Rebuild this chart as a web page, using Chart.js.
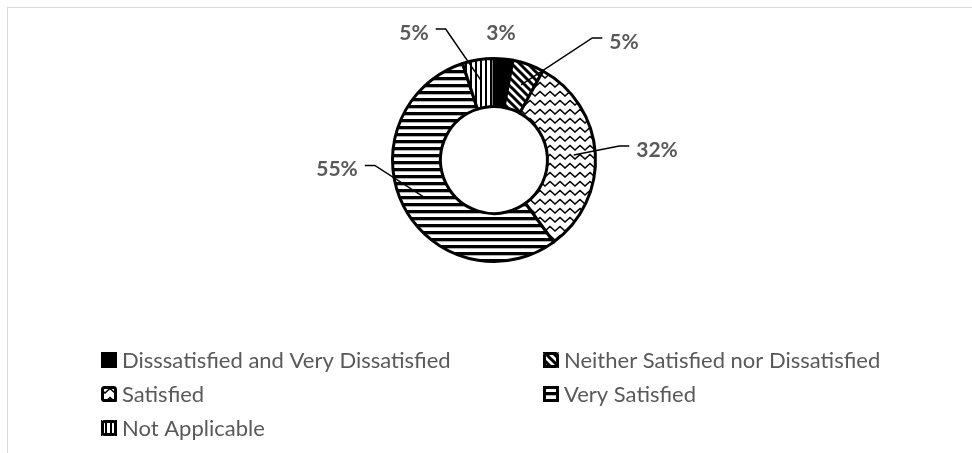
<!DOCTYPE html>
<html><head><meta charset="utf-8">
<script src="https://cdn.jsdelivr.net/npm/chart.js@4/dist/chart.umd.min.js"></script>
<style>html,body{margin:0;padding:0;background:#fff;}canvas{display:block}</style>
</head><body>
<canvas id="c" width="972" height="453"></canvas>
<script>
// ---- data ----
const categories = [
  "Disssatisfied and Very Dissatisfied",
  "Neither Satisfied nor Dissatisfied",
  "Satisfied",
  "Very Satisfied",
  "Not Applicable"
];
const percentValues = [3, 5, 32, 55, 5];
const valueLabels = ["3%", "5%", "32%", "55%", "5%"];

// ---- styling / layout (not data) ----
const patternNames = ["solid", "diagonal", "zigzag", "horizontal", "vertical"];
// label text centre relative to the chart centre, in units of the outer radius
const labelPlacement = [
  {x: 0.068, y: -1.233, leader: false, side: "c"},
  {x: 1.262, y: -1.146, leader: true, side: "r"},
  {x: 1.583, y: -0.097, leader: true, side: "r"},
  {x: -1.524, y: 0.092, leader: true, side: "l"},
  {x: -0.777, y: -1.233, leader: true, side: "l"}
];
const legendColumns = [101, 543];
const legendRows = [360, 394, 428];
const textColor = "#595959";
const legendFont = "22px Lato";
const labelFont = "bold 21px Lato";
const BW = 3;

function makePattern(name) {
  if (name === "solid") return "#000";
  const c = document.createElement("canvas");
  const g = c.getContext("2d");
  if (name === "diagonal") {
    c.width = 8; c.height = 8;
    g.fillStyle = "#fff"; g.fillRect(0, 0, 8, 8);
    g.strokeStyle = "#000"; g.lineWidth = 3;
    for (const k of [-8, 0, 8]) { g.beginPath(); g.moveTo(k - 2, -2); g.lineTo(k + 10, 10); g.stroke(); }
  } else if (name === "zigzag") {
    c.width = 10; c.height = 9;
    g.fillStyle = "#fff"; g.fillRect(0, 0, 10, 9);
    g.strokeStyle = "#000"; g.lineWidth = 1.6;
    g.beginPath(); g.moveTo(-2.5, 4); g.lineTo(0, 1.5); g.lineTo(5, 6); g.lineTo(10, 1.5); g.lineTo(12.5, 4); g.stroke();
  } else if (name === "horizontal") {
    c.width = 8; c.height = 7;
    g.fillStyle = "#fff"; g.fillRect(0, 0, 8, 7);
    g.fillStyle = "#000"; g.fillRect(0, 0, 8, 3.3);
  } else if (name === "vertical") {
    c.width = 5; c.height = 8;
    g.fillStyle = "#fff"; g.fillRect(0, 0, 5, 8);
    g.fillStyle = "#000"; g.fillRect(0, 0, 2, 8);
  }
  return g.createPattern(c, "repeat");
}
const fills = patternNames.map(makePattern);

const framePlugin = {
  id: "frame",
  beforeDraw(chart) {
    const ctx = chart.ctx;
    ctx.save();
    ctx.fillStyle = "#fff"; ctx.fillRect(0, 0, chart.width, chart.height);
    ctx.strokeStyle = "#d9d9d9"; ctx.lineWidth = 1;
    ctx.strokeRect(7.5, 7.5, 3000, 3000);
    ctx.restore();
  }
};

const labelPlugin = {
  id: "sliceLabels",
  afterDatasetsDraw(chart) {
    const ctx = chart.ctx;
    const meta = chart.getDatasetMeta(0);
    ctx.save();
    ctx.font = labelFont;
    ctx.textBaseline = "middle";
    ctx.textAlign = "center";
    meta.data.forEach((arc, i) => {
      const p = arc.getProps(["x", "y", "startAngle", "endAngle", "outerRadius", "innerRadius"], true);
      const R = p.outerRadius + BW / 2;
      const mid = (p.startAngle + p.endAngle) / 2;
      const rs = p.innerRadius + (p.outerRadius - p.innerRadius) * 0.55;
      const sx = p.x + Math.cos(mid) * rs, sy = p.y + Math.sin(mid) * rs;
      const pl = labelPlacement[i];
      const lx = p.x + pl.x * R, ly = p.y + pl.y * R;
      const txt = valueLabels[i];
      const w = ctx.measureText(txt).width;
      if (pl.leader) {
        const dir = pl.side === "r" ? -1 : 1;
        const endX = lx + dir * (w / 2 + 7);
        const elbowX = endX + dir * 10;
        const lineY = ly - 4;
        ctx.beginPath();
        ctx.moveTo(sx, sy); ctx.lineTo(elbowX, lineY); ctx.lineTo(endX, lineY);
        ctx.strokeStyle = "#000"; ctx.lineWidth = 1.5; ctx.stroke();
      }
      ctx.fillStyle = textColor;
      ctx.fillText(txt, lx, ly);
    });
    ctx.restore();
  }
};

const legendPlugin = {
  id: "gridLegend",
  afterDraw(chart) {
    const ctx = chart.ctx;
    ctx.save();
    ctx.font = legendFont;
    ctx.textBaseline = "middle";
    ctx.textAlign = "left";
    categories.forEach((name, i) => {
      const col = i % 2, row = Math.floor(i / 2);
      const x = legendColumns[col], y = legendRows[row];
      const s = 16;
      ctx.save();
      ctx.beginPath(); ctx.rect(x, y - s / 2, s, s); ctx.clip();
      ctx.fillStyle = fills[i]; ctx.fillRect(x, y - s / 2, s, s);
      ctx.restore();
      ctx.beginPath();
      ctx.roundRect(x + 1.5, y - s / 2 + 1.5, s - 3, s - 3, 2);
      ctx.strokeStyle = "#000"; ctx.lineWidth = 3; ctx.stroke();
      ctx.fillStyle = textColor;
      ctx.fillText(name, x + 21, y + 1);
    });
    ctx.restore();
  }
};

new Chart(document.getElementById("c"), {
  type: "doughnut",
  data: {
    labels: categories,
    datasets: [{
      data: percentValues,
      backgroundColor: fills,
      borderColor: "#000",
      borderWidth: BW,
      borderJoinStyle: "round",
      hoverOffset: 0
    }]
  },
  options: {
    responsive: false,
    animation: false,
    cutout: "52.7%",
    layout: {padding: {left: 391, top: 57, right: 375, bottom: 190}},
    plugins: {legend: {display: false}, tooltip: {enabled: false}}
  },
  plugins: [framePlugin, labelPlugin, legendPlugin]
});
</script>
</body></html>
